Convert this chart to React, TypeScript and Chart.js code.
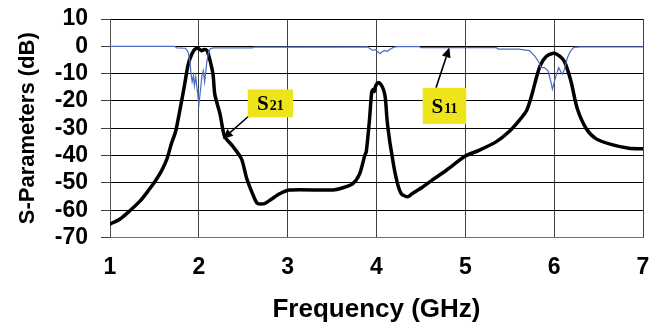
import React, { useEffect, useRef } from "react";
import { Chart, registerables } from "chart.js";

Chart.register(...registerables);

// ---- data ----
const s21Freq = [
  1.0, 1.11, 1.22, 1.34, 1.43, 1.51, 1.58, 1.64, 1.69, 1.74, 1.79, 1.84, 1.88, 1.92, 1.955, 1.99, 2.03, 2.06, 2.09,
  2.12, 2.16, 2.18, 2.24, 2.29, 2.38, 2.48, 2.54, 2.61, 2.66, 2.74, 2.82, 2.91, 3.02, 3.51, 3.62, 3.73, 3.81, 3.87,
  3.885, 3.92, 3.945, 3.96, 3.975, 3.99, 4.02, 4.05, 4.08, 4.1, 4.12, 4.15, 4.17, 4.2, 4.24, 4.28, 4.35, 4.4, 4.52,
  4.63, 4.79, 5.0, 5.16, 5.35, 5.49, 5.61, 5.69, 5.75, 5.81, 5.85, 5.91, 5.98, 6.03, 6.09, 6.13, 6.19, 6.26, 6.36,
  6.47, 6.65, 6.84, 7.0,
];
const s21dB = [
  -65.1, -63.3, -60.3, -56.6, -52.9, -49.3, -45.6, -41.3, -35.8, -31, -22.8, -14, -6.6, -2.9, -1.1, -0.7, -1.6, -1.2, -1.5,
  -4.4, -10.3, -17.6, -25, -33, -36.5, -41.2, -48.5, -54.4, -57.5, -57.6, -55.9, -54, -52.6, -52.6, -51.8, -50.4, -46.7, -39.7,
  -38.6, -27.3, -17, -15.8, -16.5, -14.5, -13.3, -14, -16, -19, -27.3, -35, -39, -44.9, -50.7, -54, -55.1, -54, -51.5,
  -48.9, -45.3, -40.2, -38, -34.9, -31.3, -27, -23.5, -17.6, -10.3, -6.6, -3.7, -2.6, -2.9, -4.4, -6.6, -12.9, -22.8, -30.1,
  -33.8, -36, -37.3, -37.5,
];

const s11Freq = [
  1.0, 1.73, 1.75, 1.85, 1.88, 1.9, 1.91, 1.925, 1.94, 1.95, 1.965, 1.98, 1.99, 2.0, 2.02, 2.035, 2.05, 2.065, 2.08, 2.09,
  2.11, 2.13, 2.16, 2.6, 2.62, 3.9, 3.92, 3.96, 3.99, 4.01, 4.04, 4.06, 4.09, 4.12, 4.16, 4.2, 4.23, 4.48, 4.5, 5.35,
  5.37, 5.6, 5.72, 5.78, 5.83, 5.85, 5.89, 5.93, 5.96, 5.98, 6.01, 6.05, 6.07, 6.09, 6.11, 6.13, 6.15, 6.18, 6.22, 6.3, 7.0,
];
const s11dB = [
  0, 0, -0.6, -0.7, -2.1, -5.7, -9.3, -13, -10.7, -14.4, -11.2, -15.6, -18, -21.5, -15.6, -10.7, -8.9, -13, -8.9, -5.7,
  -2.1, -0.9, -0.6, -0.6, -0.3, -0.2, -0.7, -1.5, -1.2, -1.9, -2.7, -2.1, -1.5, -1.9, -0.9, -0.3, -0.1, -0.1, -0.5, -0.5,
  -1.0, -1.0, -1.6, -3.5, -5.9, -7.8, -7.8, -9, -12.6, -15.7, -12, -7.8, -9, -10.2, -9, -6.5, -4.1, -1.9, -0.4, -0.2, -0.2,
];

const xTickValues = [1, 2, 3, 4, 5, 6, 7];
const yTickValues = [10, 0, -10, -20, -30, -40, -50, -60, -70];

const xTitle = "Frequency (GHz)";
const yTitle = "S-Parameters (dB)";

// label callouts, in data units (GHz, dB)
const callouts = [
  { main: "S", sub: "21", box: [2.55, 3.06, -15.8, -26], from: [2.56, -25.6], to: [2.27, -33.9] },
  { main: "S", sub: "11", box: [4.52, 5.01, -15.2, -28.4], from: [4.67, -15.2], to: [4.82, -0.4] },
];

const calloutPlugin = {
  id: "callouts",
  afterDatasetsDraw(chart: any) {
    const { ctx } = chart;
    const xs = chart.scales.x;
    const ys = chart.scales.y;
    ctx.save();
    for (const c of callouts) {
      const fx = xs.getPixelForValue(c.from[0]);
      const fy = ys.getPixelForValue(c.from[1]);
      const tx = xs.getPixelForValue(c.to[0]);
      const ty = ys.getPixelForValue(c.to[1]);
      const ang = Math.atan2(ty - fy, tx - fx);
      const hl = 10;
      const hw = 4.5;
      const bx = tx - hl * Math.cos(ang);
      const by = ty - hl * Math.sin(ang);
      ctx.strokeStyle = "#000";
      ctx.lineWidth = 1.6;
      ctx.beginPath();
      ctx.moveTo(fx, fy);
      ctx.lineTo(bx, by);
      ctx.stroke();
      ctx.fillStyle = "#000";
      ctx.beginPath();
      ctx.moveTo(tx, ty);
      ctx.lineTo(bx + hw * Math.sin(ang), by - hw * Math.cos(ang));
      ctx.lineTo(bx - hw * Math.sin(ang), by + hw * Math.cos(ang));
      ctx.closePath();
      ctx.fill();

      const x0 = xs.getPixelForValue(c.box[0]);
      const x1 = xs.getPixelForValue(c.box[1]);
      const y0 = ys.getPixelForValue(c.box[2]);
      const y1 = ys.getPixelForValue(c.box[3]);
      ctx.fillStyle = "#ede41b";
      ctx.fillRect(x0, y0, x1 - x0, y1 - y0);

      ctx.fillStyle = "#000";
      ctx.textBaseline = "alphabetic";
      ctx.textAlign = "left";
      const mainFont = 'bold 21px "Liberation Serif", "Times New Roman", serif';
      const subFont = 'bold 14px "Liberation Serif", "Times New Roman", serif';
      ctx.font = mainFont;
      const wMain = ctx.measureText(c.main).width;
      ctx.font = subFont;
      const wSub = ctx.measureText(c.sub).width;
      const start = (x0 + x1) / 2 - (wMain + wSub + 1) / 2;
      const base = (y0 + y1) / 2 + 7;
      ctx.font = mainFont;
      ctx.fillText(c.main, start, base);
      ctx.font = subFont;
      ctx.fillText(c.sub, start + wMain + 1, base);
    }
    ctx.restore();
  },
};

const tickFont = { family: '"Liberation Sans", Arial, sans-serif', size: 23, weight: "bold" as const };

export default function App() {
  const ref = useRef<HTMLCanvasElement | null>(null);

  useEffect(() => {
    if (!ref.current) return;
    const chart = new Chart(ref.current, {
      type: "line",
      data: {
        datasets: [
          {
            label: "S11",
            data: s11Freq.map((f, i) => ({ x: f, y: s11dB[i] })),
            borderColor: "#4a6cc0",
            borderWidth: 1.2,
            pointRadius: 0,
            tension: 0,
          },
          {
            label: "S21",
            data: s21Freq.map((f, i) => ({ x: f, y: s21dB[i] })),
            borderColor: "#000000",
            borderWidth: 3.5,
            pointRadius: 0,
            tension: 0.25,
            borderJoinStyle: "round",
            borderCapStyle: "round",
          },
        ],
      },
      options: {
        animation: false,
        responsive: false,
        devicePixelRatio: 1,
        layout: { padding: { top: 19, right: 6, bottom: 0, left: 0 } },
        plugins: { legend: { display: false }, tooltip: { enabled: false } },
        scales: {
          x: {
            type: "linear",
            min: 1,
            max: 7,
            afterBuildTicks: (s: any) => {
              s.ticks = xTickValues.map((v) => ({ value: v }));
            },
            afterFit: (s: any) => {
              s.height = 88.5;
              s.paddingLeft = 0;
              s.paddingRight = 0;
            },
            ticks: { autoSkip: false, maxRotation: 0, color: "#000", font: tickFont, padding: 16 },
            grid: { color: "#404040", lineWidth: 1, drawTicks: false },
            border: { color: "#707070", width: 1 },
            title: {
              display: true,
              text: xTitle,
              color: "#000",
              font: { family: '"Liberation Sans", Arial, sans-serif', size: 26, weight: "bold" },
              padding: { top: 0, bottom: 1 },
            },
          },
          y: {
            type: "linear",
            min: -70,
            max: 10,
            afterBuildTicks: (s: any) => {
              s.ticks = yTickValues.map((v) => ({ value: v }));
            },
            afterFit: (s: any) => {
              s.width = 110;
              s.paddingTop = 0;
              s.paddingBottom = 0;
            },
            ticks: { autoSkip: false, color: "#000", font: tickFont, padding: 13 },
            grid: { color: "#000", lineWidth: 1, tickLength: 9, tickColor: "#404040" },
            border: { color: "#505050", width: 1 },
            title: {
              display: true,
              text: yTitle,
              color: "#000",
              font: { family: '"Liberation Sans", Arial, sans-serif', size: 22, weight: "bold" },
              padding: { top: 15, bottom: 0 },
            },
          },
        },
      },
      plugins: [calloutPlugin],
    });
    return () => chart.destroy();
  }, []);

  return (
    <div style={{ position: "absolute", left: 0, top: 0, width: 649, height: 326, background: "#fff" }}>
      <canvas ref={ref} width={649} height={326} style={{ display: "block", width: 649, height: 326 }} />
    </div>
  );
}
